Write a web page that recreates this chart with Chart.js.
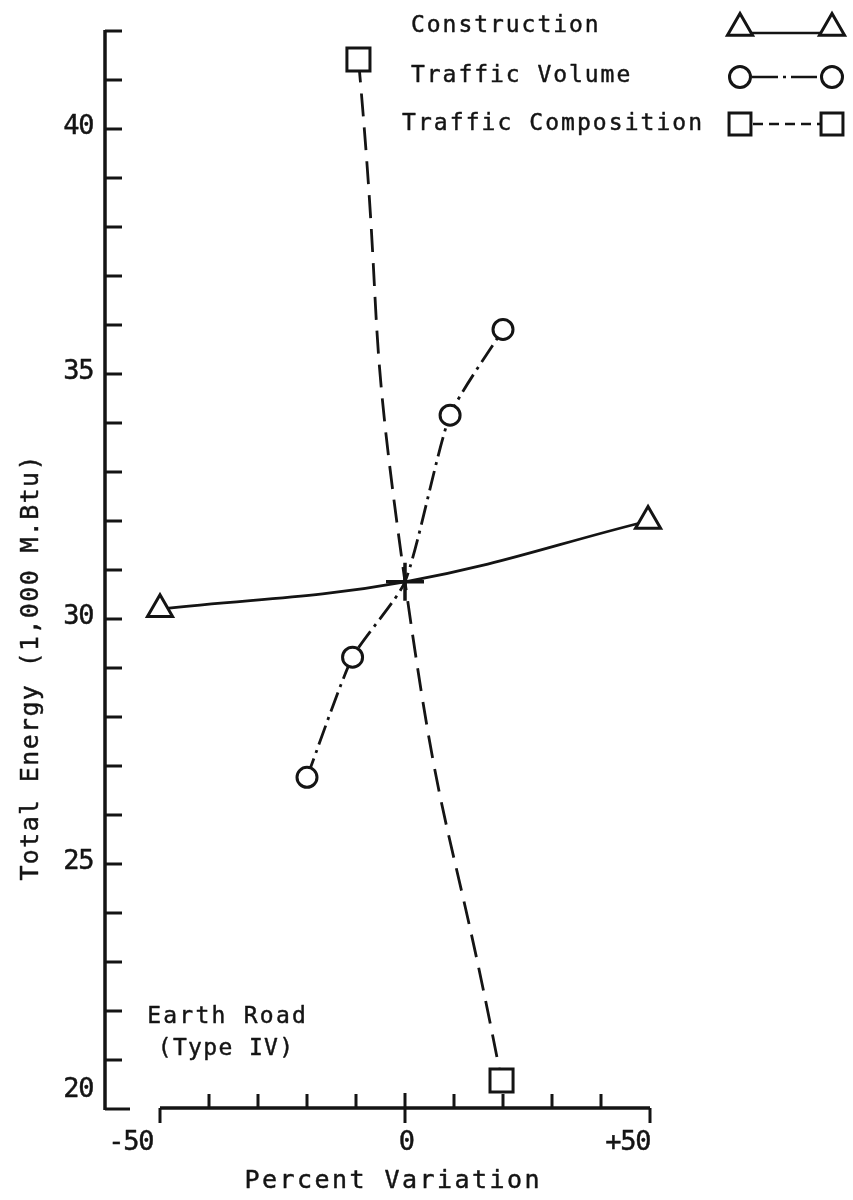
<!DOCTYPE html>
<html>
<head>
<meta charset="utf-8">
<script src="https://cdn.jsdelivr.net/npm/chart.js@4/dist/chart.umd.min.js"></script>
<style>
  html, body { margin: 0; padding: 0; background: #ffffff; }
  canvas { display: block; }
</style>
</head>
<body>
<canvas id="energy" width="853" height="1200"></canvas>
<script>
// Total energy of an earth road versus percent variation of each input.
// Every series passes through the base case at 0 % variation.
const constructionX = [-50, 0, 49.6];
const constructionY = [30.2, 30.76, 32.0];

const volumeX = [-20, -10.7, 0, 9.2, 20];
const volumeY = [26.77, 29.22, 30.76, 34.16, 35.91];

const compositionX = [-9.5, 0, 19.7];
const compositionY = [41.42, 30.76, 20.58];

const baseCaseX = [0];
const baseCaseY = [30.76];

const seriesNames = ['Construction', 'Traffic Volume', 'Traffic Composition'];

const xTickValues = [-50, -40, -30, -20, -10, 0, 10, 20, 30, 40, 50];
const xLabelValues = [-50, 0, 50];
const xTickLabels = ['-50', '0', '+50'];

const yTickValues = [20, 21, 22, 23, 24, 25, 26, 27, 28, 29, 30, 31, 32, 33, 34, 35, 36, 37, 38, 39, 40, 41, 42];
const yLabelValues = [20, 25, 30, 35, 40];
const yTickLabels = ['20', '25', '30', '35', '40'];

const xTitle = 'Percent Variation';
const yTitle = 'Total Energy (1,000 M.Btu)';
const noteLines = ['Earth Road', '(Type IV)'];

const INK = '#141414';
const MONO = '"DejaVu Sans Mono", "Liberation Mono", monospace';

const toPoints = (xs, ys) => xs.map((v, i) => ({ x: v, y: ys[i] }));
const hideBase = (xs, r) => xs.map(v => (v === 0 ? 0 : r));

// typewriter-style text: every character on a fixed pitch, inked a little heavier
function pitchText(ctx, text, x, y, pitch, align) {
  const n = text.length;
  let start = x;
  if (align === 'center') start = x - (n * pitch) / 2;
  else if (align === 'right') start = x - n * pitch;
  ctx.save();
  ctx.textAlign = 'center';
  ctx.strokeStyle = ctx.fillStyle;
  ctx.lineWidth = 0.45;
  ctx.lineJoin = 'round';
  ctx.setLineDash([]);
  for (let i = 0; i < n; i++) {
    const cx = start + pitch * (i + 0.5);
    ctx.fillText(text[i], cx, y);
    ctx.strokeText(text[i], cx, y);
  }
  ctx.restore();
}

function marker(ctx, style, radius, x, y) {
  ctx.save();
  ctx.fillStyle = '#ffffff';
  ctx.strokeStyle = INK;
  ctx.lineWidth = 3;
  ctx.setLineDash([]);
  const opts = { pointStyle: style, radius: radius, rotation: 0, borderWidth: 3 };
  if (Chart.helpers && Chart.helpers.drawPoint) {
    Chart.helpers.drawPoint(ctx, opts, x, y);
  } else {
    ctx.beginPath();
    if (style === 'circle') ctx.arc(x, y, radius, 0, Math.PI * 2);
    else if (style === 'rect') { const s = radius * Math.SQRT1_2; ctx.rect(x - s, y - s, 2 * s, 2 * s); }
    else { ctx.moveTo(x, y - radius); ctx.lineTo(x + radius * 0.866, y + radius / 2); ctx.lineTo(x - radius * 0.866, y + radius / 2); ctx.closePath(); }
    ctx.fill(); ctx.stroke();
  }
  ctx.restore();
}

const typedAxes = {
  id: 'typedAxes',
  beforeDatasetsDraw(chart) {
    const { ctx } = chart;
    const xs = chart.scales.x, ys = chart.scales.y;
    const yAxisPx = xs.getPixelForValue(-50) - 55;
    const baseY = ys.getPixelForValue(20);
    ctx.save();
    ctx.strokeStyle = INK;
    ctx.lineCap = 'butt';

    // vertical axis with a tick at every unit
    ctx.lineWidth = 3.5;
    ctx.beginPath();
    ctx.moveTo(yAxisPx, ys.getPixelForValue(42) - 1);
    ctx.lineTo(yAxisPx, baseY + 1);
    ctx.stroke();
    ctx.lineWidth = 3;
    yTickValues.forEach(v => {
      const py = ys.getPixelForValue(v);
      const len = v === 20 ? 25 : 17;
      ctx.beginPath();
      ctx.moveTo(yAxisPx, py);
      ctx.lineTo(yAxisPx + len, py);
      ctx.stroke();
    });

    // horizontal axis from -50 to +50
    const axisY = baseY - 1;
    ctx.lineWidth = 3.5;
    ctx.beginPath();
    ctx.moveTo(xs.getPixelForValue(-50), axisY);
    ctx.lineTo(xs.getPixelForValue(50), axisY);
    ctx.stroke();
    ctx.lineWidth = 3;
    xTickValues.forEach(v => {
      const px = xs.getPixelForValue(v);
      let up = 14, down = 0;
      if (v === -50 || v === 50) { up = 0; down = 15; }
      if (v === 0) { up = 15; down = 15; }
      ctx.beginPath();
      ctx.moveTo(px, axisY - up);
      ctx.lineTo(px, axisY + down);
      ctx.stroke();
    });

    // tick labels
    ctx.fillStyle = INK;
    ctx.font = '27px ' + MONO;
    ctx.textBaseline = 'middle';
    yLabelValues.forEach((v, i) => {
      let py = ys.getPixelForValue(v) - 2;
      if (v === 20) py -= 17;
      pitchText(ctx, yTickLabels[i], yAxisPx - 11, py, 15, 'right');
    });
    xLabelValues.forEach((v, i) => {
      const px = xs.getPixelForValue(v);
      const py = axisY + 35;
      if (v < 0) pitchText(ctx, xTickLabels[i], px - 6, py, 15, 'right');
      else if (v > 0) pitchText(ctx, xTickLabels[i], px + 1, py, 15, 'right');
      else pitchText(ctx, xTickLabels[i], px + 2, py, 15, 'center');
    });

    // axis titles
    ctx.font = '25px ' + MONO;
    ctx.textBaseline = 'alphabetic';
    pitchText(ctx, xTitle, 392, 1188, 17.5, 'center');
    ctx.save();
    ctx.translate(38, 668);
    ctx.rotate(-Math.PI / 2);
    pitchText(ctx, yTitle, 0, 0, 16.4, 'center');
    ctx.restore();

    // road type note
    ctx.font = '23px ' + MONO;
    pitchText(ctx, noteLines[0], 146, 1023, 16.1, 'left');
    pitchText(ctx, noteLines[1], 157, 1055, 15.2, 'left');
    ctx.restore();
  },
  afterDraw(chart) {
    const { ctx } = chart;
    ctx.save();
    ctx.fillStyle = INK;
    ctx.strokeStyle = INK;
    ctx.font = '23px ' + MONO;
    ctx.textBaseline = 'alphabetic';
    const leftSym = 740, rightSym = 832;

    // Construction: solid line between triangles
    pitchText(ctx, seriesNames[0], 410, 32, 15.8, 'left');
    ctx.lineWidth = 2.5;
    ctx.setLineDash([]);
    ctx.beginPath(); ctx.moveTo(752, 33); ctx.lineTo(822, 33); ctx.stroke();
    marker(ctx, 'triangle', 14.5, leftSym, 28);
    marker(ctx, 'triangle', 14.5, rightSym, 28);

    // Traffic Volume: dash-dot line between circles
    pitchText(ctx, seriesNames[1], 410, 82, 15.8, 'left');
    ctx.lineWidth = 2.5;
    ctx.setLineDash([26, 5, 3, 5]);
    ctx.beginPath(); ctx.moveTo(752, 77); ctx.lineTo(821, 77); ctx.stroke();
    marker(ctx, 'circle', 10.5, leftSym, 77);
    marker(ctx, 'circle', 10.5, rightSym, 77);

    // Traffic Composition: dashed line between squares
    pitchText(ctx, seriesNames[2], 401, 130, 15.9, 'left');
    ctx.lineWidth = 2.5;
    ctx.setLineDash([10, 6]);
    ctx.beginPath(); ctx.moveTo(753, 124); ctx.lineTo(821, 124); ctx.stroke();
    marker(ctx, 'rect', 15.5, leftSym, 124);
    marker(ctx, 'rect', 15.5, rightSym, 124);
    ctx.restore();
  }
};

const lineStyle = {
  borderColor: INK,
  borderWidth: 2.8,
  pointBackgroundColor: '#ffffff',
  pointBorderColor: INK,
  pointBorderWidth: 3,
  pointHoverRadius: 0,
  fill: false,
  clip: false
};

new Chart(document.getElementById('energy'), {
  type: 'line',
  data: {
    datasets: [
      Object.assign({}, lineStyle, {
        label: seriesNames[0],
        data: toPoints(constructionX, constructionY),
        tension: 0.4,
        pointStyle: 'triangle',
        pointRadius: hideBase(constructionX, 14.5)
      }),
      Object.assign({}, lineStyle, {
        label: seriesNames[1],
        data: toPoints(volumeX, volumeY),
        tension: 0.2,
        borderDash: [20, 6, 3, 6],
        pointStyle: 'circle',
        pointRadius: hideBase(volumeX, 10)
      }),
      Object.assign({}, lineStyle, {
        label: seriesNames[2],
        data: toPoints(compositionX, compositionY),
        tension: 0.55,
        borderDash: [23, 11],
        pointStyle: 'rect',
        pointRadius: hideBase(compositionX, 16.3)
      }),
      Object.assign({}, lineStyle, {
        label: 'Base case',
        data: toPoints(baseCaseX, baseCaseY),
        showLine: false,
        pointStyle: 'cross',
        pointRadius: 19,
        pointBorderWidth: 3.5
      })
    ]
  },
  options: {
    responsive: false,
    devicePixelRatio: 1,
    animation: false,
    events: [],
    layout: { padding: { left: 160, right: 203, top: 31, bottom: 91 } },
    scales: {
      x: { type: 'linear', min: -50, max: 50, display: false },
      y: { type: 'linear', min: 20, max: 42, display: false }
    },
    plugins: {
      legend: { display: false },
      tooltip: { enabled: false }
    }
  },
  plugins: [typedAxes]
});
</script>
</body>
</html>
